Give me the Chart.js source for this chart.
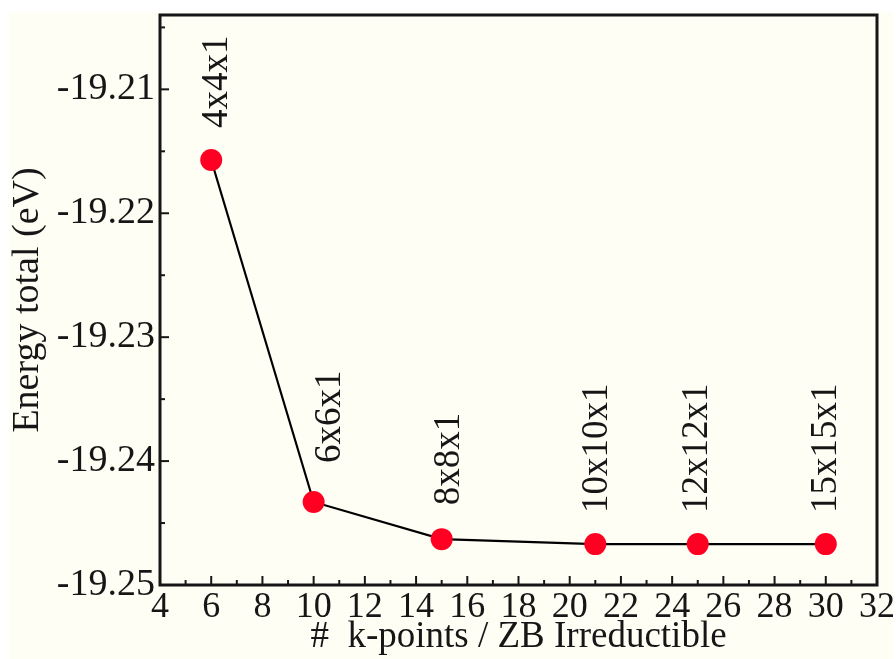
<!DOCTYPE html>
<html>
<head>
<meta charset="utf-8">
<script src="https://cdn.jsdelivr.net/npm/chart.js@4/dist/chart.umd.min.js"></script>
<style>
  html, body { margin: 0; padding: 0; background: #ffffff; }
  #wrap { position: absolute; left: 9px; top: 12px; width: 884px; height: 647px; background: #fefef5; }
  canvas { display: block; }
</style>
</head>
<body>
<div id="wrap"><canvas id="c" width="884" height="647"></canvas></div>
<script>
// k-point meshes and converged total energies
const meshLabels = ['4x4x1', '6x6x1', '8x8x1', '10x10x1', '12x12x1', '15x15x1'];
const kPoints = [6, 10, 15, 21, 25, 30];
const energies = [-19.2157, -19.2433, -19.2463, -19.2467, -19.2467, -19.2467];

// axis tick values
const xTicks = [4, 6, 8, 10, 12, 14, 16, 18, 20, 22, 24, 26, 28, 30, 32];
const yTicks = [-19.25, -19.24, -19.23, -19.22, -19.21];

const serif = 'Liberation Serif, Times New Roman, serif';
const ink = '#161616';

// label placement relative to each marker: [dx, gap above]
const labelOffsets = [[6, 32], [17, 39], [8, 34], [2, 31], [0, 31], [0, 31]];

// frame box plus inward major/minor ticks on bottom and left
const framePlugin = {
  id: 'frame',
  afterDatasetsDraw(chart) {
    const { ctx, chartArea: a, scales } = chart;
    ctx.save();
    ctx.strokeStyle = ink;
    ctx.lineCap = 'butt';
    ctx.lineWidth = 2;
    const x = scales.x, y = scales.y;
    const tick = (px, py, dx, dy) => { ctx.beginPath(); ctx.moveTo(px, py); ctx.lineTo(px + dx, py + dy); ctx.stroke(); };
    xTicks.forEach((v, i) => {
      const px = x.getPixelForValue(v);
      tick(px, a.bottom, 0, -9);
      if (i < xTicks.length - 1) {
        const m = x.getPixelForValue((v + xTicks[i + 1]) / 2);
        tick(m, a.bottom, 0, -5);
      }
    });
    yTicks.forEach((v, i) => {
      const py = y.getPixelForValue(v);
      tick(a.left, py, 9, 0);
      const nxt = i < yTicks.length - 1 ? yTicks[i + 1] : v + 0.01;
      const m = y.getPixelForValue((v + nxt) / 2);
      if (m > a.top) tick(a.left, m, 5, 0);
    });
    ctx.lineWidth = 3;
    ctx.strokeRect(a.left, a.top, a.right - a.left, a.bottom - a.top);
    ctx.restore();
  }
};

// rotated mesh labels above each marker
const meshLabelPlugin = {
  id: 'meshLabels',
  afterDatasetsDraw(chart) {
    const { ctx } = chart;
    const meta = chart.getDatasetMeta(0);
    ctx.save();
    ctx.fillStyle = ink;
    ctx.font = '37px ' + serif;
    ctx.textAlign = 'left';
    ctx.textBaseline = 'middle';
    meta.data.forEach((pt, i) => {
      const [dx, gap] = labelOffsets[i];
      ctx.save();
      ctx.translate(pt.x + dx, pt.y - gap);
      ctx.rotate(-Math.PI / 2);
      ctx.fillText(meshLabels[i], 0, 0);
      ctx.restore();
    });
    ctx.restore();
  }
};

new Chart(document.getElementById('c'), {
  type: 'line',
  data: {
    datasets: [{
      data: kPoints.map((k, i) => ({ x: k, y: energies[i] })),
      borderColor: '#000000',
      borderWidth: 2.2,
      pointRadius: 11,
      pointHoverRadius: 11,
      pointBackgroundColor: '#ff0022',
      pointBorderWidth: 0,
      tension: 0,
      clip: false
    }]
  },
  options: {
    responsive: false,
    animation: false,
    devicePixelRatio: 1,
    layout: { autoPadding: false, padding: { left: 0, right: 16, top: 3, bottom: 3 } },
    plugins: { legend: { display: false }, tooltip: { enabled: false } },
    scales: {
      x: {
        type: 'linear',
        min: 4, max: 32,
        grid: { display: false, drawTicks: false },
        border: { display: false },
        afterBuildTicks: s => { s.ticks = xTicks.map(v => ({ value: v })); },
        afterFit: s => { s.height = 71; s.paddingLeft = 0; s.paddingRight = 0; },
        ticks: {
          autoSkip: false, maxRotation: 0, padding: 1,
          color: ink, font: { family: serif, size: 36 },
          callback: v => String(v)
        },
        title: {
          display: true, text: '#  k-points / ZB Irreductible',
          color: ink, font: { family: serif, size: 37, lineHeight: 1 }, padding: 0
        }
      },
      y: {
        type: 'linear',
        min: -19.25, max: -19.204,
        grid: { display: false, drawTicks: false },
        border: { display: false },
        afterBuildTicks: s => { s.ticks = yTicks.map(v => ({ value: v })); },
        afterFit: s => { s.width = 151; s.paddingTop = 0; s.paddingBottom = 0; },
        ticks: {
          padding: 5,
          color: ink, font: { family: serif, size: 38 },
          callback: v => Number(v).toFixed(2)
        },
        title: {
          display: true, text: 'Energy total (eV)',
          color: ink, font: { family: serif, size: 38, lineHeight: 1 }, padding: 0
        }
      }
    }
  },
  plugins: [framePlugin, meshLabelPlugin]
});
</script>
</body>
</html>
